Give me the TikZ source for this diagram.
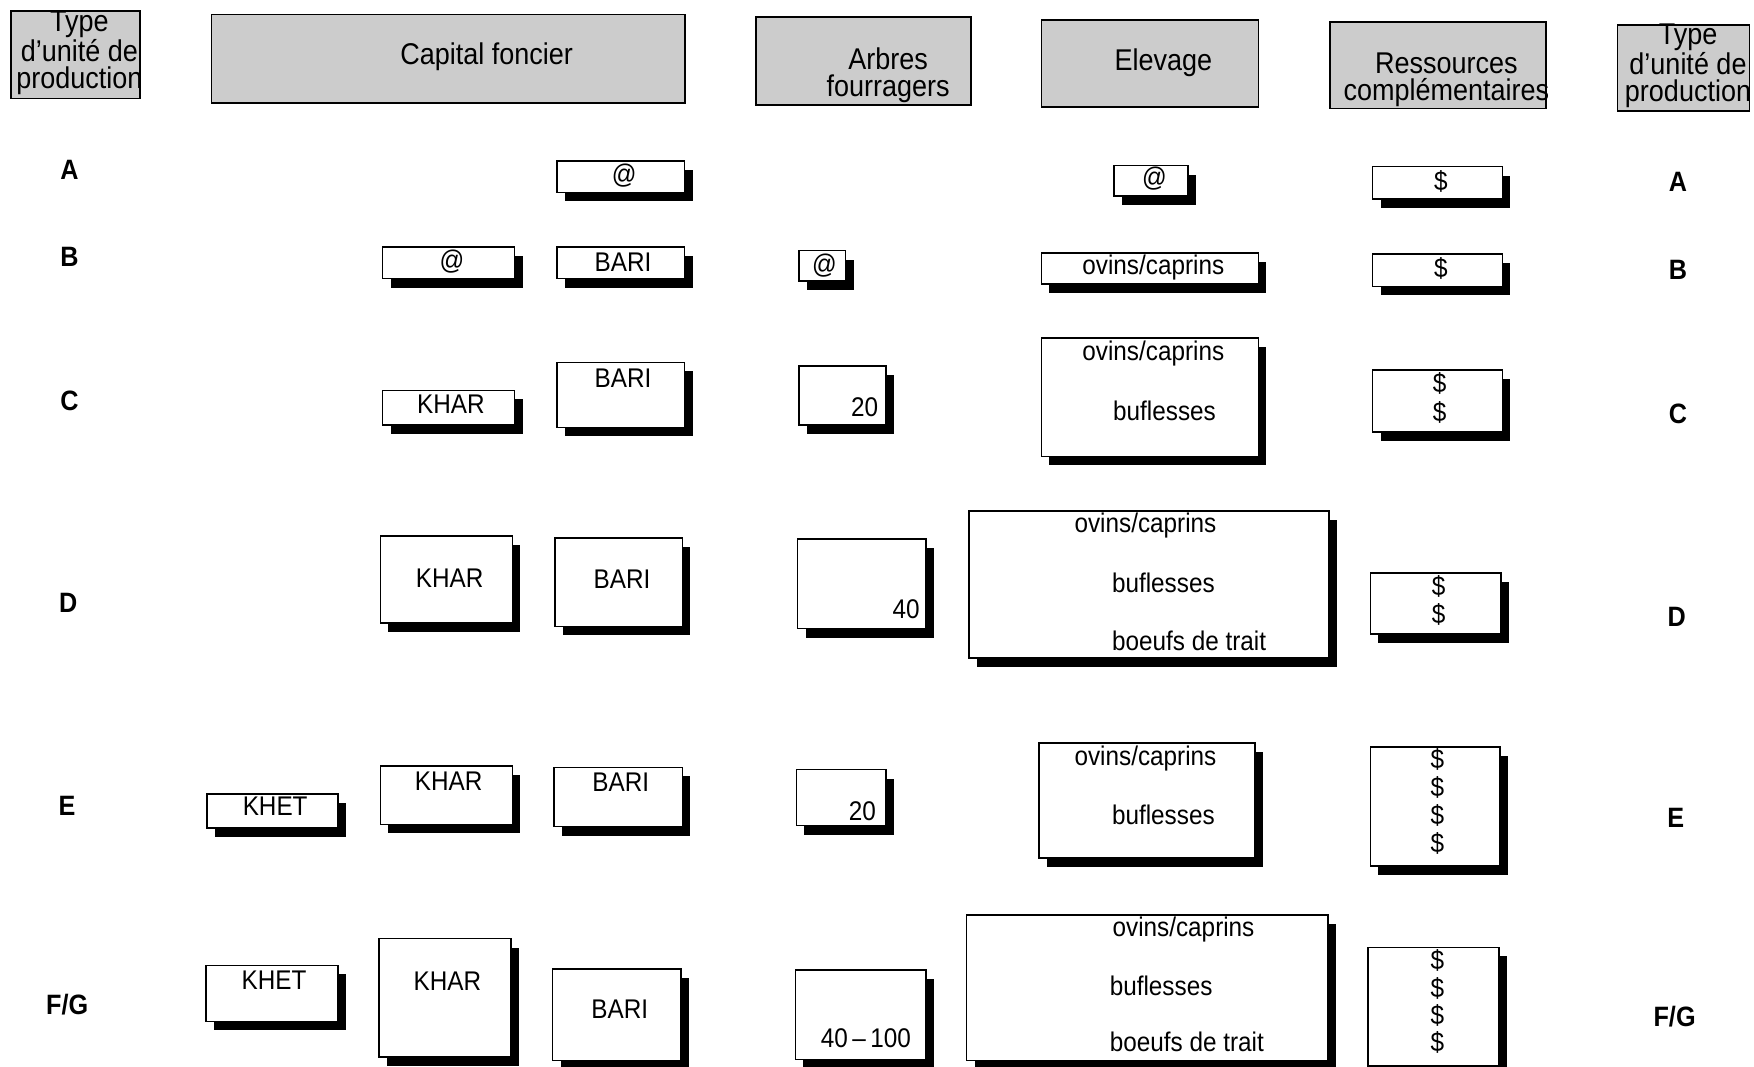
\documentclass[tikz,border=0pt]{standalone}
\usepackage{fontspec}
\setmainfont{Liberation Sans}[FakeStretch=0.9]
\usetikzlibrary{fit,shadows}
\begin{document}
\begin{tikzpicture}[x=0.5593pt,y=-0.5593pt,
 box/.style={draw=black, line width=0.8pt, fill=white, inner sep=0pt,
   drop shadow={shadow xshift=4pt, shadow yshift=-4.5pt, fill=black, opacity=1}},
 hdr/.style={draw=black, line width=0.9pt, fill=black!20, inner sep=0pt},
 htxt/.style={font=\fontsize{15}{13.5}\selectfont, align=center, inner sep=0pt},
 txt/.style={font=\fontsize{13.5}{14}\selectfont, inner sep=0pt},
 lbl/.style={font=\fontsize{14}{14}\selectfont\bfseries, inner sep=0pt}]
\useasboundingbox[fill=white] (0,0) rectangle (1568,953);
\newcommand\mybox[5]{\node[box, fit={(#2,#3)(#4,#5)}] (#1) {};}
\newcommand\myhdr[5]{\node[hdr, fit={(#2,#3)(#4,#5)}] (#1) {};}

% headers
\myhdr{hL}{10}{10}{125}{88}
\myhdr{hCap}{189}{13}{612}{92}
\myhdr{hArb}{676}{15}{868}{94}
\myhdr{hElv}{931}{18}{1125}{96}
\myhdr{hRes}{1189}{20}{1382}{97}
\myhdr{hR}{1446}{22}{1564}{99}
\node[htxt] (thL) at (71,47) {Type\\d'unité de\\production};
\node[htxt] (thCap) at (435,51) {Capital foncier};
\node[htxt] (thArb) at (794,67) {Arbres\\fourragers};
\node[htxt] (thElv) at (1040,56) {Elevage};
\node[htxt] (thRes) at (1293,71) {Ressources\\complémentaires};
\node[htxt] (thR) at (1509,59) {Type\\d'unité de\\production};

% row labels
\node[lbl] (lA) at (62,152) {A};
\node[lbl] (lB) at (62,230) {B};
\node[lbl] (lC) at (62,358) {C};
\node[lbl] (lD) at (61,539) {D};
\node[lbl] (lE) at (60,720) {E};
\node[lbl] (lF) at (60,898) {F/G};
\node[lbl] (rA) at (1500,163) {A};
\node[lbl] (rB) at (1500,241) {B};
\node[lbl] (rC) at (1500,370) {C};
\node[lbl] (rD) at (1499,551) {D};
\node[lbl] (rE) at (1498,731) {E};
\node[lbl] (rF) at (1497,909) {F/G};

% row A
\mybox{aBari}{498}{144}{612}{172}
\mybox{aElev}{996}{148}{1062}{175}
\mybox{aRes}{1227}{149}{1343}{178}
% row B
\mybox{bKhar}{342}{221}{460}{249}
\mybox{bBari}{498}{221}{612}{249}
\mybox{bArb}{714}{224}{756}{251}
\mybox{bElev}{931}{226}{1125}{254}
\mybox{bRes}{1227}{227}{1343}{256}
% row C
\mybox{cKhar}{342}{349}{460}{380}
\mybox{cBari}{498}{324}{612}{382}
\mybox{cArb}{714}{327}{792}{380}
\mybox{cElev}{931}{302}{1125}{408}
\mybox{cRes}{1227}{331}{1343}{386}
% row D
\mybox{dKhar}{340}{479}{458}{557}
\mybox{dBari}{496}{481}{610}{560}
\mybox{dArb}{713}{482}{828}{562}
\mybox{dElev}{866}{457}{1188}{588}
\mybox{dRes}{1225}{512}{1342}{567}
% row E
\mybox{eKhet}{185}{710}{302}{740}
\mybox{eKhar}{340}{685}{458}{737}
\mybox{eBari}{495}{686}{610}{739}
\mybox{eArb}{712}{688}{792}{738}
\mybox{eElev}{929}{664}{1122}{767}
\mybox{eRes}{1225}{668}{1341}{774}
% row F/G
\mybox{fKhet}{184}{863}{302}{913}
\mybox{fKhar}{339}{839}{457}{945}
\mybox{fBari}{494}{866}{609}{948}
\mybox{fArb}{711}{867}{828}{947}
\mybox{fElev}{864}{818}{1187}{948}
\mybox{fRes}{1223}{847}{1340}{953}

% texts row A
\node[txt] (taBari) at (558,157) {@};
\node[txt] (taElev) at (1032,160) {@};
\node[txt] (taRes) at (1288,162) {\$};
% row B
\node[txt] (tbKhar) at (404,234) {@};
\node[txt] (tbBari) at (557,234) {BARI};
\node[txt] (tbArb) at (737,237) {@};
\node[txt] (tbElev) at (1031,239) {ovins/caprins};
\node[txt] (tbRes) at (1288,240) {\$};
% row C
\node[txt] (tcKhar) at (403,361) {KHAR};
\node[txt] (tcBari) at (557,338) {BARI};
\node[txt] (tcArb) at (773,364) {20};
\node[txt] (tcElev1) at (1031,316) {ovins/caprins};
\node[txt] (tcElev2) at (1041,367) {buflesses};
\node[txt] (tcRes1) at (1287,343) {\$};
\node[txt] (tcRes2) at (1287,369) {\$};
% row D
\node[txt] (tdKhar) at (402,517) {KHAR};
\node[txt] (tdBari) at (556,518) {BARI};
\node[txt] (tdArb) at (810,545) {40};
\node[txt] (tdElev1) at (1024,470) {ovins/caprins};
\node[txt] (tdElev2) at (1040,521) {buflesses};
\node[txt] (tdElev3) at (1063,573) {boeufs de trait};
\node[txt] (tdRes1) at (1286,524) {\$};
\node[txt] (tdRes2) at (1286,549) {\$};
% row E
\node[txt] (teKhet) at (246,721) {KHET};
\node[txt] (teKhar) at (401,698) {KHAR};
\node[txt] (teBari) at (555,699) {BARI};
\node[txt] (teArb) at (771,725) {20};
\node[txt] (teElev1) at (1024,678) {ovins/caprins};
\node[txt] (teElev2) at (1040,728) {buflesses};
\node[txt] (teRes1) at (1285,679) {\$};
\node[txt] (teRes2) at (1285,704) {\$};
\node[txt] (teRes3) at (1285,729) {\$};
\node[txt] (teRes4) at (1285,754) {\$};
% row F/G
\node[txt] (tfKhet) at (245,876) {KHET};
\node[txt] (tfKhar) at (400,877) {KHAR};
\node[txt] (tfBari) at (554,902) {BARI};
\node[txt] (tfArb) at (774,928) {40{\,}–{\,}100};
\node[txt] (tfElev1) at (1058,831) {ovins/caprins};
\node[txt] (tfElev2) at (1038,881) {buflesses};
\node[txt] (tfElev3) at (1061,931) {boeufs de trait};
\node[txt] (tfRes1) at (1285,859) {\$};
\node[txt] (tfRes2) at (1285,884) {\$};
\node[txt] (tfRes3) at (1285,908) {\$};
\node[txt] (tfRes4) at (1285,932) {\$};
\end{tikzpicture}
\end{document}
